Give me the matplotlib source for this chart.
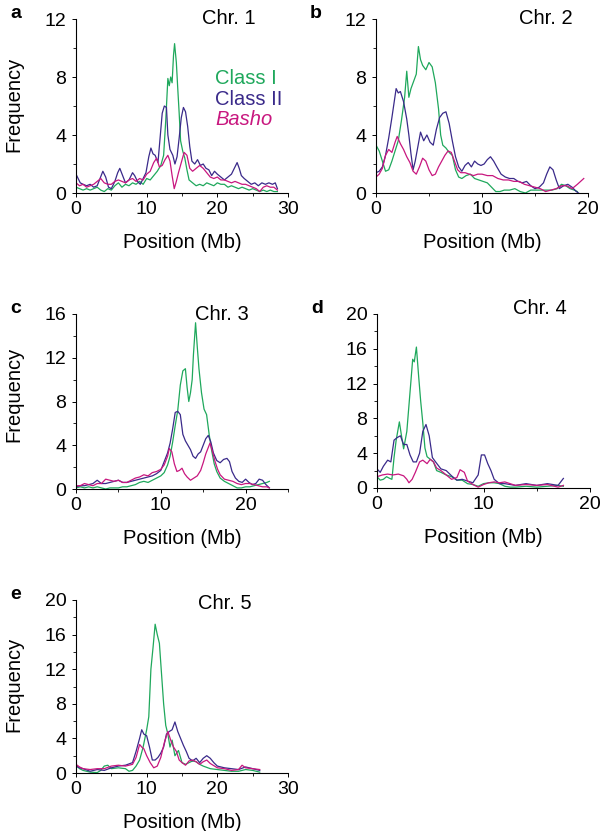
import matplotlib
matplotlib.use('Agg')
import matplotlib.pyplot as plt
from matplotlib.ticker import MultipleLocator

plt.rcParams['font.family'] = ['Liberation Sans', 'DejaVu Sans']

GREEN = '#1fa85c'
PURPLE = '#3a2a8a'
MAGENTA = '#c8177f'

# ---- data: (position Mb, frequency) ----
chr1_class1 = [(0, 0.4), (0.5, 0.3), (1, 0.2), (1.5, 0.3), (2, 0.2), (2.5, 0.3), (3, 0.4), (3.5, 0.2),
               (4, 0.1), (4.5, 0.3), (5, 0.2), (5.5, 0.5), (6, 0.7), (6.5, 0.4), (7, 0.6), (7.5, 0.5),
               (8, 0.7), (8.5, 0.6), (9, 0.8), (9.5, 0.6), (10, 1.0), (10.5, 0.9), (11, 1.2), (11.5, 1.5),
               (12, 1.9), (12.4, 2.6), (12.7, 5.0), (13.0, 7.9), (13.2, 7.4), (13.4, 8.0), (13.6, 7.6),
               (13.8, 9.5), (13.95, 10.3), (14.2, 9.0), (14.4, 7.2), (14.6, 5.5), (14.8, 3.6), (15.1, 2.9),
               (15.4, 2.4), (15.7, 1.6), (16.0, 0.9), (16.5, 0.7), (17, 0.5), (17.5, 0.6), (18, 0.5),
               (18.5, 0.7), (19, 0.6), (19.5, 0.5), (20, 0.7), (20.5, 0.6), (21, 0.6), (21.5, 0.4),
               (22, 0.5), (22.5, 0.4), (23, 0.3), (23.5, 0.4), (24, 0.3), (24.5, 0.2), (25, 0.3),
               (25.5, 0.2), (26, 0.1), (26.5, 0.2), (27, 0.1), (27.5, 0.2), (28, 0.1), (28.5, 0.1)]
chr1_class2 = [(0, 1.3), (0.3, 1.0), (0.6, 0.7), (1, 0.6), (1.5, 0.5), (2, 0.6), (2.5, 0.4), (3, 0.5),
               (3.4, 1.0), (3.8, 1.5), (4.2, 1.1), (4.6, 0.4), (5, 0.3), (5.5, 0.8), (5.9, 1.4), (6.2, 1.7),
               (6.6, 1.2), (7, 0.7), (7.5, 0.9), (8, 1.4), (8.3, 1.2), (8.7, 0.8), (9.1, 0.6), (9.5, 1.0),
               (9.9, 1.4), (10.3, 2.5), (10.6, 3.1), (10.9, 2.7), (11.2, 2.6), (11.6, 2.1), (11.9, 3.8),
               (12.2, 5.5), (12.5, 6.0), (12.8, 5.9), (13.0, 4.0), (13.3, 3.0), (13.7, 2.6), (14.0, 2.0),
               (14.3, 2.5), (14.6, 3.8), (14.9, 5.2), (15.2, 5.9), (15.5, 5.6), (15.8, 4.6), (16.1, 3.2),
               (16.4, 2.2), (16.8, 2.0), (17.2, 2.3), (17.6, 1.9), (18, 2.0), (18.4, 1.7), (18.8, 1.6),
               (19.2, 1.2), (19.6, 1.5), (20, 1.3), (20.5, 1.1), (21, 0.9), (21.5, 1.1), (22, 1.3),
               (22.5, 1.8), (22.8, 2.1), (23.1, 1.7), (23.4, 1.2), (23.8, 1.0), (24.3, 0.8), (24.8, 0.6),
               (25.3, 0.7), (25.8, 0.5), (26.3, 0.7), (26.8, 0.6), (27.3, 0.7), (27.8, 0.6), (28.2, 0.7),
               (28.5, 0.3)]
chr1_basho = [(0, 0.7), (0.5, 0.5), (1, 0.6), (1.5, 0.4), (2, 0.5), (2.5, 0.6), (3, 0.8), (3.5, 1.0),
              (4, 0.7), (4.5, 0.6), (5, 0.6), (5.5, 0.8), (6, 0.9), (6.5, 0.8), (7, 0.7), (7.5, 0.9),
              (8, 1.0), (8.5, 0.8), (9, 1.0), (9.5, 0.9), (10, 1.3), (10.5, 1.5), (11, 2.1), (11.4, 2.4),
              (11.8, 1.8), (12.2, 1.9), (12.6, 2.3), (13, 2.6), (13.3, 2.2), (13.6, 1.2), (13.9, 0.3),
              (14.2, 0.8), (14.5, 1.4), (14.9, 2.1), (15.3, 2.8), (15.7, 2.6), (16.1, 1.7), (16.5, 1.5),
              (17, 1.7), (17.5, 1.9), (18, 1.7), (18.5, 1.4), (19, 1.1), (19.5, 1.0), (20, 1.1),
              (20.5, 0.9), (21, 0.9), (21.5, 0.8), (22, 0.7), (22.5, 0.8), (23, 0.7), (23.5, 0.6),
              (24, 0.6), (24.5, 0.5), (25, 0.4), (25.5, 0.3), (26, 0.1), (26.5, 0.4), (27, 0.5),
              (27.5, 0.4), (28, 0.4), (28.5, 0.2)]

chr2_class1 = [(0, 3.3), (0.3, 2.9), (0.6, 2.2), (0.9, 1.5), (1.2, 1.6), (1.5, 2.2), (1.8, 2.9), (2.1, 3.6),
               (2.4, 5.0), (2.7, 6.6), (2.9, 8.4), (3.1, 6.6), (3.3, 7.2), (3.6, 7.8), (3.8, 8.2), (4.0, 10.1),
               (4.2, 9.2), (4.4, 8.8), (4.7, 8.5), (5.0, 9.0), (5.3, 8.7), (5.6, 7.6), (5.9, 5.8), (6.1, 4.0),
               (6.3, 3.3), (6.6, 3.1), (6.9, 2.8), (7.2, 2.6), (7.5, 1.6), (7.8, 1.1), (8.1, 1.0), (8.5, 1.2),
               (8.9, 1.3), (9.3, 1.0), (9.7, 0.9), (10.1, 0.8), (10.5, 0.7), (10.9, 0.4), (11.3, 0.1),
               (11.7, 0.1), (12.1, 0.2), (12.6, 0.2), (13.1, 0.3), (13.6, 0.1), (14.1, 0.0), (14.6, 0.2),
               (15.1, 0.2), (15.6, 0.2), (16.1, 0.2), (16.6, 0.2), (17.1, 0.3), (17.5, 0.6), (17.9, 0.5),
               (18.3, 0.3), (18.7, 0.2), (19.0, 0.1)]
chr2_class2 = [(0, 1.4), (0.3, 1.5), (0.6, 1.8), (0.9, 2.6), (1.2, 3.8), (1.5, 5.2), (1.7, 6.2), (1.9, 7.2),
               (2.1, 6.9), (2.3, 7.0), (2.6, 6.3), (2.9, 5.1), (3.1, 4.0), (3.3, 2.7), (3.5, 1.6), (3.7, 2.2),
               (3.9, 3.0), (4.2, 4.2), (4.5, 3.6), (4.8, 4.0), (5.1, 3.5), (5.4, 3.3), (5.7, 4.4), (6.0, 5.2),
               (6.3, 5.5), (6.6, 5.6), (6.9, 4.8), (7.2, 3.6), (7.5, 2.5), (7.8, 1.8), (8.1, 1.5), (8.4, 1.9),
               (8.7, 2.1), (9.0, 1.8), (9.3, 2.2), (9.6, 2.0), (9.9, 1.9), (10.2, 2.0), (10.5, 2.3),
               (10.8, 2.5), (11.1, 2.2), (11.4, 1.8), (11.8, 1.3), (12.2, 1.1), (12.6, 1.0), (13, 1.0),
               (13.4, 0.8), (13.8, 0.7), (14.2, 0.8), (14.6, 0.5), (15, 0.3), (15.4, 0.4), (15.8, 0.7),
               (16.1, 1.3), (16.4, 1.8), (16.7, 1.6), (17.0, 0.9), (17.3, 0.3), (17.7, 0.5), (18.1, 0.6),
               (18.5, 0.4), (18.9, 0.1), (19.1, 0.0)]
chr2_basho = [(0, 1.1), (0.3, 1.3), (0.6, 1.7), (0.9, 2.6), (1.2, 3.0), (1.5, 2.8), (1.8, 3.5), (2.0, 3.9),
              (2.3, 3.4), (2.6, 3.0), (2.9, 2.5), (3.2, 2.1), (3.5, 1.5), (3.8, 1.3), (4.1, 1.8), (4.4, 2.4),
              (4.7, 2.2), (5.0, 1.6), (5.3, 1.2), (5.6, 1.3), (5.9, 1.8), (6.2, 2.2), (6.5, 2.6), (6.8, 2.9),
              (7.1, 2.8), (7.4, 2.2), (7.7, 1.6), (8.0, 1.4), (8.4, 1.4), (8.8, 1.3), (9.2, 1.2), (9.6, 1.3),
              (10, 1.3), (10.5, 1.2), (11, 1.2), (11.5, 1.0), (12, 0.9), (12.5, 0.9), (13, 0.8), (13.5, 0.8),
              (14, 0.6), (14.5, 0.5), (15, 0.4), (15.5, 0.3), (16, 0.1), (16.5, 0.2), (17, 0.3), (17.5, 0.5),
              (18, 0.5), (18.5, 0.3), (19, 0.6), (19.6, 1.0)]

chr3_class1 = [(0, 0.1), (0.5, 0.2), (1, 0.1), (1.5, 0.2), (2, 0.1), (2.5, 0.2), (3, 0.1), (3.5, 0.0),
               (4, 0.1), (4.5, 0.1), (5, 0.1), (5.5, 0.2), (6, 0.2), (6.5, 0.3), (7, 0.4), (7.5, 0.6),
               (8, 0.7), (8.5, 0.6), (9, 0.8), (9.5, 1.0), (10, 1.2), (10.4, 1.5), (10.8, 2.2), (11.1, 3.0),
               (11.4, 4.3), (11.7, 5.8), (12.0, 7.2), (12.3, 9.5), (12.6, 10.8), (12.9, 11.0), (13.1, 9.3),
               (13.3, 8.0), (13.5, 8.8), (13.7, 10.0), (13.85, 12.3), (14.1, 15.2), (14.3, 13.0),
               (14.5, 11.0), (14.8, 8.8), (15.1, 7.3), (15.4, 6.8), (15.7, 5.0), (16.0, 3.5), (16.3, 2.3),
               (16.6, 1.6), (17, 1.0), (17.5, 0.7), (18, 0.5), (18.5, 0.3), (19, 0.1), (19.5, 0.1),
               (20, 0.2), (20.5, 0.2), (21, 0.3), (21.5, 0.4), (22, 0.5), (22.5, 0.6), (22.8, 0.7)]
chr3_class2 = [(0, 0.2), (0.5, 0.3), (1, 0.3), (1.5, 0.4), (2, 0.5), (2.5, 0.8), (3, 0.5), (3.5, 0.5),
               (4, 0.6), (4.5, 0.7), (5, 0.8), (5.5, 0.6), (6, 0.6), (6.5, 0.7), (7, 0.8), (7.5, 0.9),
               (8, 1.0), (8.5, 1.1), (9, 1.2), (9.5, 1.4), (10, 1.7), (10.4, 2.5), (10.8, 3.3), (11.1, 4.2),
               (11.4, 5.5), (11.7, 7.0), (12.0, 7.1), (12.3, 6.8), (12.6, 5.0), (12.9, 4.4), (13.2, 4.0),
               (13.5, 3.6), (13.8, 3.0), (14.1, 2.8), (14.4, 3.2), (14.7, 3.4), (15.0, 4.0), (15.3, 4.6),
               (15.6, 4.9), (15.9, 4.3), (16.2, 3.3), (16.6, 2.6), (17.0, 2.4), (17.4, 2.7), (17.8, 2.8),
               (18.1, 2.5), (18.4, 1.6), (18.8, 1.0), (19.2, 0.7), (19.6, 0.6), (20.0, 0.9), (20.4, 0.6),
               (20.8, 0.4), (21.2, 0.5), (21.6, 0.9), (22.0, 0.8), (22.4, 0.4), (22.8, 0.1)]
chr3_basho = [(0, 0.3), (0.5, 0.3), (1, 0.5), (1.5, 0.4), (2, 0.3), (2.5, 0.5), (3, 0.5), (3.5, 0.9),
              (4, 0.8), (4.5, 0.7), (5, 0.8), (5.5, 0.6), (6, 0.6), (6.5, 0.8), (7, 1.0), (7.5, 1.1),
              (8, 1.3), (8.5, 1.2), (9, 1.5), (9.5, 1.6), (10, 1.8), (10.4, 2.2), (10.8, 3.0), (11.0, 3.7),
              (11.3, 3.4), (11.6, 2.3), (11.9, 1.6), (12.2, 1.7), (12.5, 1.9), (12.8, 1.4), (13.1, 1.1),
              (13.5, 0.8), (13.9, 1.0), (14.3, 1.2), (14.7, 1.7), (15.0, 2.4), (15.3, 3.2), (15.6, 3.8),
              (15.8, 4.2), (16.1, 3.4), (16.4, 2.5), (16.7, 1.8), (17.0, 1.3), (17.5, 0.9), (18, 0.8),
              (18.5, 0.7), (19, 0.5), (19.5, 0.4), (20, 0.5), (20.5, 0.5), (21, 0.4), (21.5, 0.3),
              (22, 0.2), (22.5, 0.2), (22.8, 0.1)]

chr4_class1 = [(0, 1.3), (0.3, 0.9), (0.6, 1.0), (0.9, 1.3), (1.2, 1.1), (1.4, 1.0), (1.6, 3.5), (1.8, 5.5),
               (2.1, 7.6), (2.3, 6.0), (2.5, 4.5), (2.8, 6.5), (3.0, 9.5), (3.2, 12.5), (3.35, 14.8),
               (3.5, 14.5), (3.7, 16.2), (3.9, 13.0), (4.1, 10.0), (4.3, 7.5), (4.5, 4.6), (4.7, 3.6),
               (5.0, 3.3), (5.3, 3.0), (5.6, 2.0), (6.0, 1.8), (6.5, 1.5), (7.0, 1.3), (7.5, 0.9),
               (8.0, 0.9), (8.5, 0.5), (9.0, 0.4), (9.5, 0.2), (10.0, 0.5), (10.5, 0.6), (11.0, 0.6),
               (11.5, 0.5), (12.0, 0.2), (12.5, 0.1), (13.0, 0.1), (14, 0.2), (15, 0.1), (16, 0.2),
               (17, 0.3), (17.5, 0.2)]
chr4_class2 = [(0, 2.2), (0.3, 1.8), (0.6, 2.5), (1.0, 3.2), (1.3, 3.0), (1.6, 5.5), (1.9, 5.8), (2.2, 6.0),
               (2.5, 5.0), (2.8, 5.0), (3.1, 3.8), (3.4, 3.0), (3.7, 3.0), (4.0, 4.0), (4.3, 6.5), (4.6, 7.3),
               (4.9, 6.0), (5.2, 3.5), (5.5, 3.0), (6.0, 2.2), (6.5, 2.0), (7.0, 1.4), (7.5, 0.9), (8.0, 1.0),
               (8.5, 0.8), (9.0, 0.6), (9.5, 1.5), (9.8, 3.8), (10.1, 3.8), (10.4, 2.8), (10.7, 2.0),
               (11.0, 1.0), (11.5, 0.5), (12, 0.5), (13, 0.3), (14, 0.5), (15, 0.3), (16, 0.5), (17, 0.3),
               (17.5, 1.1)]
chr4_basho = [(0, 1.3), (0.5, 1.5), (1, 1.6), (1.5, 1.5), (2, 1.6), (2.5, 1.4), (2.8, 1.0), (3.0, 0.6),
              (3.3, 1.0), (3.6, 1.8), (4.0, 3.0), (4.3, 3.2), (4.7, 2.8), (5.0, 3.3), (5.3, 3.0), (5.6, 2.3),
              (6.0, 2.0), (6.5, 1.5), (7.0, 1.0), (7.5, 1.2), (7.8, 2.1), (8.2, 1.8), (8.5, 0.8), (9.0, 0.4),
              (9.5, 0.1), (10.0, 0.4), (10.5, 0.6), (11.0, 0.7), (11.5, 0.6), (12.0, 0.7), (13, 0.3),
              (14, 0.4), (15, 0.3), (16, 0.4), (17, 0.1), (17.5, 0.3)]

chr5_class1 = [(0, 0.9), (0.5, 0.5), (1, 0.3), (2, 0.1), (3, 0.05), (3.5, 0.3), (4, 0.8), (4.5, 0.9),
               (5, 0.5), (6, 0.6), (7, 0.5), (7.5, 0.2), (8, 0.3), (8.5, 0.8), (9, 1.5), (9.5, 3.0),
               (10, 5.0), (10.3, 6.5), (10.6, 12.0), (10.9, 14.5), (11.2, 17.2), (11.5, 16.0), (11.8, 15.0),
               (12.1, 11.5), (12.4, 8.0), (12.7, 5.5), (13, 4.5), (13.3, 3.0), (13.6, 3.8), (14, 2.0),
               (14.5, 2.6), (15, 1.2), (15.5, 1.0), (16, 1.2), (16.5, 1.4), (17, 1.3), (17.5, 1.0),
               (18, 0.8), (19, 0.5), (20, 0.4), (21, 0.3), (22, 0.2), (23, 0.2), (24, 0.4), (25, 0.3),
               (26, 0.1)]
chr5_class2 = [(0, 0.8), (0.5, 0.6), (1, 0.5), (2, 0.2), (3, 0.4), (4, 0.3), (5, 0.6), (6, 0.8), (7, 0.9),
               (8, 1.2), (8.5, 2.5), (9, 4.0), (9.3, 5.0), (9.6, 4.5), (10, 4.3), (10.4, 3.0), (10.8, 1.5),
               (11.2, 1.5), (11.6, 1.8), (12, 2.3), (12.4, 3.0), (12.8, 4.5), (13.2, 4.8), (13.6, 5.0),
               (14, 5.9), (14.4, 4.8), (14.8, 4.0), (15.2, 3.2), (15.6, 2.5), (16, 1.7), (16.5, 1.4),
               (17, 1.7), (17.5, 1.2), (18, 1.7), (18.5, 2.0), (19, 1.7), (19.5, 1.2), (20, 0.8),
               (21, 0.6), (22, 0.5), (23, 0.4), (24, 0.7), (25, 0.5), (26, 0.3)]
chr5_basho = [(0, 1.0), (0.5, 0.7), (1, 0.5), (2, 0.4), (3, 0.5), (4, 0.5), (5, 0.8), (6, 0.9), (7, 0.8),
              (8, 1.0), (8.5, 1.8), (9, 3.3), (9.3, 3.0), (9.6, 2.8), (10, 2.0), (10.5, 1.2), (11, 0.6),
              (11.5, 0.8), (12, 1.8), (12.5, 3.5), (13, 4.8), (13.4, 3.8), (13.8, 3.0), (14.2, 2.5),
              (14.6, 1.5), (15, 1.2), (15.5, 0.9), (16, 1.4), (16.5, 1.5), (17, 1.3), (17.5, 1.0),
              (18, 1.3), (18.5, 1.5), (19, 1.1), (20, 0.6), (21, 0.5), (22, 0.3), (23, 0.4), (23.5, 0.9),
              (24, 0.6), (25, 0.5), (26, 0.4)]

series_names = ['Class I', 'Class II', 'Basho']
series_colors = [GREEN, PURPLE, MAGENTA]

# panel: letter, title, data, xmax, xmajor, ymax, ymajor, axes rect (fig px), ylabel y, title pos
panels = [
    ('a', 'Chr. 1', [chr1_class1, chr1_class2, chr1_basho], 30, 10, 12, 4, (76, 19, 212, 174), 0.51, (0.72, 1.0)),
    ('b', 'Chr. 2', [chr2_class1, chr2_class2, chr2_basho], 20, 10, 12, 4, (376, 19, 212, 174), None, (0.80, 1.0)),
    ('c', 'Chr. 3', [chr3_class1, chr3_class2, chr3_basho], 25, 10, 16, 4, (76, 314, 212, 175), 0.54, (0.69, 1.0)),
    ('d', 'Chr. 4', [chr4_class1, chr4_class2, chr4_basho], 20, 10, 20, 4, (377, 314, 213, 174), None, (0.765, 1.03)),
    ('e', 'Chr. 5', [chr5_class1, chr5_class2, chr5_basho], 30, 10, 20, 4, (76, 600, 212, 173), 0.51, (0.70, 0.98)),
]

W, H = 600, 831
fig = plt.figure(figsize=(W / 100, H / 100), dpi=100)

for letter, title, data, xmax, xmaj, ymax, ymaj, (px, py, pw, ph), ylab_y, tpos in panels:
    ax = fig.add_axes([px / W, 1 - (py + ph) / H, pw / W, ph / H])
    for s, c in zip(data, series_colors):
        xs = [p[0] for p in s]
        ys = [p[1] for p in s]
        ax.plot(xs, ys, color=c, lw=0.9)
    ax.set_xlim(0, xmax)
    ax.set_ylim(0, ymax)
    ax.xaxis.set_major_locator(MultipleLocator(xmaj))
    ax.xaxis.set_minor_locator(MultipleLocator(xmaj / 2))
    ax.yaxis.set_major_locator(MultipleLocator(ymaj))
    ax.yaxis.set_minor_locator(MultipleLocator(ymaj / 2))
    for side in ['top', 'right']:
        ax.spines[side].set_visible(False)
    for side in ['left', 'bottom']:
        ax.spines[side].set_linewidth(0.8)
    ax.tick_params(which='major', length=3, width=0.7, labelsize=14, direction='out')
    ax.tick_params(which='minor', length=2, width=0.6, direction='out')
    ax.tick_params(axis='y', pad=4)
    ax.tick_params(axis='x', pad=3)
    ax.set_xlabel('Position (Mb)', fontsize=14.5, labelpad=10.5)
    if ylab_y is not None:
        ax.set_ylabel('Frequency', fontsize=14.5)
        ax.yaxis.set_label_coords(-0.25, ylab_y)
    ax.text(tpos[0], tpos[1], title, transform=ax.transAxes, fontsize=14.5, ha='center', va='center')
    fig.text((px - 66) / W, 1 - (py - 1) / H, letter, fontsize=14, fontweight='bold', va='baseline')
    if letter == 'a':
        for i, (nm, c) in enumerate(zip(series_names, series_colors)):
            ax.text(0.656, 0.66 - 0.12 * i, nm, transform=ax.transAxes, fontsize=14.5, color=c,
                    ha='left', va='center', style='italic' if nm == 'Basho' else 'normal')

fig.savefig('out.png', dpi=100)
